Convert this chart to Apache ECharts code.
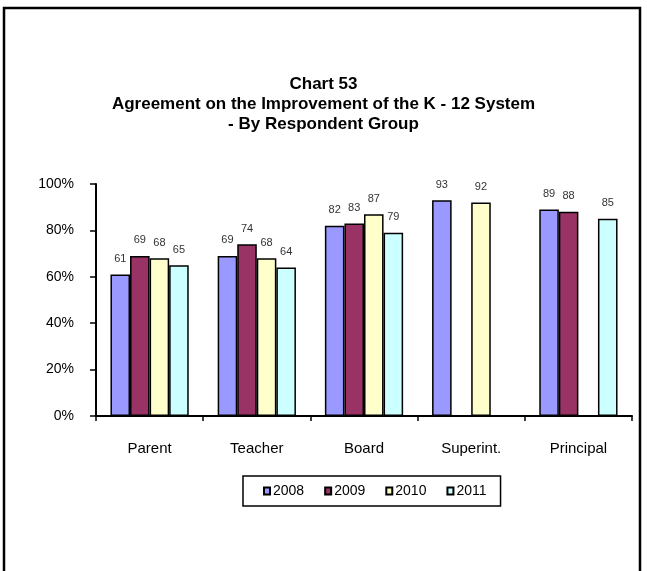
<!DOCTYPE html>
<html><head><meta charset="utf-8">
<script src="https://cdn.jsdelivr.net/npm/echarts@6/dist/echarts.min.js"></script>
<style>html,body{margin:0;padding:0;background:#fff}#c{width:647px;height:571px}</style>
</head><body><div id="c"></div>
<script>
var categories = ['Parent', 'Teacher', 'Board', 'Superint.', 'Principal'];
var years = ['2008', '2009', '2010', '2011'];
var v2008 = [61, 69, 82, 93, 89];
var v2009 = [69, 74, 83, null, 88];
var v2010 = [68, 68, 87, 92, null];
var v2011 = [65, 64, 79, null, 85];
var yTicks = [0, 20, 40, 60, 80, 100];
var colors = ['#9999FF', '#993366', '#FFFFCC', '#CCFFFF'];
var seriesValues = [v2008, v2009, v2010, v2011];

var chart = echarts.init(document.getElementById('c'), null, {renderer: 'canvas'});
var FONT = 'Liberation Sans, Arial, sans-serif';
var series = years.map(function (y, i) {
  return {
    name: y, type: 'bar',
    data: seriesValues[i],
    barGap: '0%', barCategoryGap: '27%',
    itemStyle: {color: colors[i], borderColor: '#000', borderWidth: 1.5},
    label: {show: true, position: 'top', distance: 10, color: '#333', fontSize: 11, fontFamily: FONT},
    emphasis: {disabled: true}
  };
});
chart.setOption({
  animation: false,
  textStyle: {fontFamily: FONT},
  graphic: [{type: 'rect', shape: {x: 4, y: 8, width: 636, height: 600},
    style: {fill: 'none', stroke: '#000', lineWidth: 2.5}}],
  title: {
    text: 'Chart 53\nAgreement on the Improvement of the K - 12 System\n- By Respondent Group',
    left: 'center', top: 69,
    textStyle: {fontFamily: FONT, fontSize: 17, fontWeight: 'bold', color: '#000', lineHeight: 20}
  },
  legend: {
    data: years, left: 243, top: 476, width: 273,
    padding: [8, 14, 8, 20], itemGap: 20,
    itemWidth: 6, itemHeight: 7, icon: 'rect',
    borderColor: '#000', borderWidth: 1.5,
    textStyle: {fontSize: 14, color: '#000', padding: [0, 0, 0, -2]}
  },
  grid: {left: 96, right: 15, top: 184, bottom: 155},
  xAxis: {
    type: 'category', data: categories,
    axisLine: {lineStyle: {color: '#000', width: 2}},
    axisTick: {show: true, length: 5, lineStyle: {color: '#000', width: 1.5}},
    axisLabel: {color: '#000', fontSize: 15, margin: 25}
  },
  yAxis: {
    type: 'value', min: 0, max: 100, interval: 20,
    axisLine: {show: true, lineStyle: {color: '#000', width: 2}},
    axisTick: {show: true, length: 6, lineStyle: {color: '#000', width: 1.5}},
    splitLine: {show: false},
    axisLabel: {color: '#000', fontSize: 14, margin: 22, formatter: function (v) { return v + '%'; }}
  },
  series: series
});
</script></body></html>
